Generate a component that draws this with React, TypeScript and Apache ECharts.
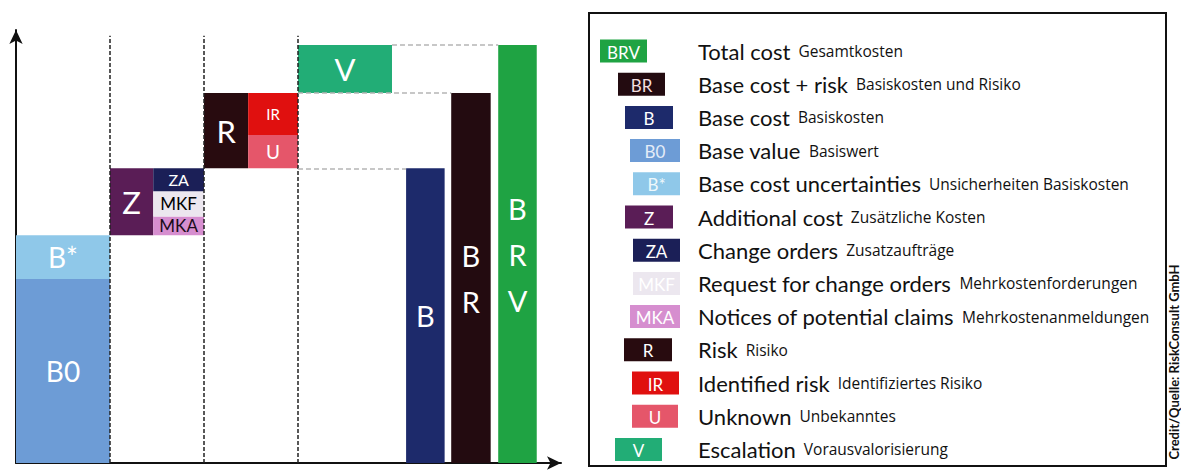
import React, { useEffect, useRef } from 'react';
import * as echarts from 'echarts';

// ---- data (arbitrary cost units) ----
const componentCodes = ['B0', 'B*', 'MKA', 'MKF', 'ZA', 'U', 'IR', 'V'];
const componentValues = [44, 10.5, 4.5, 6, 5.5, 8, 10, 11.5];
const stepCodes = ['B', 'Z', 'R', 'V'];
const totalCodes = ['B', 'BR', 'BRV'];

const legendCodes = ['BRV', 'BR', 'B', 'B0', 'B*', 'Z', 'ZA', 'MKF', 'MKA', 'R', 'IR', 'U', 'V'];
const legendMain = [
  'Total cost', 'Base cost + risk', 'Base cost', 'Base value', 'Base cost uncertainties',
  'Additional cost', 'Change orders', 'Request for change orders', 'Notices of potential claims',
  'Risk', 'Identified risk', 'Unknown', 'Escalation',
];
const legendSub = [
  'Gesamtkosten', 'Basiskosten und Risiko', 'Basiskosten', 'Basiswert', 'Unsicherheiten Basiskosten',
  'Zusätzliche Kosten', 'Zusatzaufträge', 'Mehrkostenforderungen', 'Mehrkostenanmeldungen',
  'Risiko', 'Identifiziertes Risiko', 'Unbekanntes', 'Vorausvalorisierung',
];
const creditText = 'Credit/Quelle: RiskConsult GmbH';

// ---- styles ----
const COLORS: Record<string, string> = {
  BRV: '#1fa343', BR: '#230b10', B: '#1d2a6b', B0: '#6d9cd6', 'B*': '#8fc8e9',
  Z: '#5a1d56', ZA: '#1b1f57', MKF: '#ece7ef', MKA: '#d68ecf', R: '#280b0f',
  IR: '#e0100f', U: '#e5566a', V: '#22ad76',
};
const LEGEND_TEXT: Record<string, string> = {
  BRV: '#ffffff', BR: '#f3dede', B: '#ffffff', B0: '#e4ecf8', 'B*': '#eef8fc', Z: '#ffffff',
  ZA: '#ffffff', MKF: '#ffffff', MKA: '#ffffff', R: '#ffffff', IR: '#ffffff', U: '#ffffff', V: '#ffffff',
};
// swatch x / width in the legend (layout only)
const SWATCH_X = [600, 618, 625, 630, 633, 625, 633, 633, 630, 624, 632, 632, 615];
const SWATCH_W = [47, 47, 48, 50, 47, 48, 47, 47, 50, 48, 47, 46, 47];

const FONT = 'Lato, "Noto Sans", sans-serif';

export default function App() {
  const ref = useRef<HTMLDivElement>(null);
  useEffect(() => {
    if (!ref.current) return;
    const chart = echarts.init(ref.current, undefined, { renderer: 'svg' });

    const v = (c: string) => componentValues[componentCodes.indexOf(c)];
    const baseB = v('B0') + v('B*');
    const topZ = baseB + v('MKA') + v('MKF') + v('ZA');
    const topR = topZ + v('U') + v('IR');
    const topV = topR + v('V');
    const totals = [topZ, topR, topV];

    // x layout: step slots are 1 unit wide
    const zSplit = 1.46;
    const rSplit = 2.47;
    const totalX = [[4.15, 4.56], [4.63, 5.05], [5.13, 5.54]];

    type Piece = { x0: number; x1: number; y0: number; y1: number; code: string; label: string; size: number; color: string };
    const pieces: Piece[] = [];
    pieces.push({ x0: 0, x1: 1, y0: 0, y1: v('B0'), code: 'B0', label: 'B0', size: 28, color: '#fff' });
    pieces.push({ x0: 0, x1: 1, y0: v('B0'), y1: baseB, code: 'B*', label: 'B*', size: 28, color: '#fff' });
    pieces.push({ x0: 1, x1: zSplit, y0: baseB, y1: topZ, code: 'Z', label: 'Z', size: 31, color: '#fff' });
    let acc = baseB;
    [['MKA', '#1a0c1a', 17], ['MKF', '#000', 17], ['ZA', '#fff', 16]].forEach(([c, col, s]) => {
      pieces.push({ x0: zSplit, x1: 2, y0: acc, y1: acc + v(c as string), code: c as string, label: c as string, size: s as number, color: col as string });
      acc += v(c as string);
    });
    pieces.push({ x0: 2, x1: rSplit, y0: topZ, y1: topR, code: 'R', label: 'R', size: 31, color: '#fff' });
    acc = topZ;
    [['U', '#fff', 19], ['IR', '#fff', 15]].forEach(([c, col, s]) => {
      pieces.push({ x0: rSplit, x1: 3, y0: acc, y1: acc + v(c as string), code: c as string, label: c as string, size: s as number, color: col as string });
      acc += v(c as string);
    });
    pieces.push({ x0: 3, x1: 4, y0: topR, y1: topV, code: 'V', label: 'V', size: 31, color: '#fff' });
    totalCodes.forEach((c, i) => {
      pieces.push({ x0: totalX[i][0], x1: totalX[i][1], y0: 0, y1: totals[i], code: c, label: c.split('').join('\n'), size: 29, color: '#fff' });
    });

    const dashedV = [1, 2, 3].map((x) => [{ coord: [x, 0] }, { coord: [x, 102.2] }]);
    const grayLines = [
      [{ coord: [4, topV] }, { coord: [totalX[2][0], topV] }],
      [{ coord: [3, topR] }, { coord: [totalX[1][0], topR] }],
      [{ coord: [3, topZ] }, { coord: [totalX[0][0], topZ] }],
    ];

    const rowY = (i: number) => 51 + i * 33.2;
    const graphics: any[] = [
      { type: 'rect', shape: { x: 589, y: 13, width: 577, height: 453 }, style: { fill: '#fff', stroke: '#111', lineWidth: 2 }, z: 0 },
    ];
    legendCodes.forEach((c, i) => {
      const cy = rowY(i);
      graphics.push({ type: 'rect', shape: { x: SWATCH_X[i], y: cy - 11.5, width: SWATCH_W[i], height: 23 }, style: { fill: COLORS[c] }, z: 1 });
      graphics.push({
        type: 'text', x: SWATCH_X[i] + SWATCH_W[i] / 2, y: cy + 1, z: 2,
        style: { text: c, fill: LEGEND_TEXT[c], font: `17px ${FONT}`, align: 'center', verticalAlign: 'middle', textAlign: 'center', textVerticalAlign: 'middle' },
      });
      graphics.push({
        type: 'text', x: 698, y: cy, z: 2,
        style: {
          text: `{m|${legendMain[i]}}{s|  ${legendSub[i]}}`,
          align: 'left', verticalAlign: 'middle', textAlign: 'left', textVerticalAlign: 'middle',
          rich: {
            m: { fontFamily: 'Lato', fontSize: 22, fill: '#111', color: '#111' },
            s: { fontFamily: '"Open Sans"', fontSize: 15.5, fill: '#111', color: '#111' },
          },
        },
      });
    });
    graphics.push({
      type: 'text', x: 1174, y: 362, rotation: Math.PI / 2, z: 2,
      style: { text: creditText, fill: '#111', font: `bold 13px ${FONT}`, align: 'center', verticalAlign: 'middle', textAlign: 'center', textVerticalAlign: 'middle' },
    });

    const axisLine = { show: true, symbol: ['none', 'arrow'], symbolSize: [10, 14], lineStyle: { color: '#111', width: 2 } };

    chart.setOption({
      animation: false,
      backgroundColor: '#fff',
      grid: { left: 16, right: 620, top: 30, bottom: 7 },
      xAxis: {
        type: 'value', min: 0, max: 5.798,
        axisLine, axisTick: { show: false }, axisLabel: { show: false }, splitLine: { show: false },
      },
      yAxis: {
        type: 'value', min: 0, max: 103.6,
        axisLine, axisTick: { show: false }, axisLabel: { show: false }, splitLine: { show: false },
      },
      graphic: graphics,
      series: [
        {
          type: 'custom',
          name: stepCodes.join(' / '),
          encode: { x: [0, 1], y: [2, 3] },
          data: pieces.map((p) => [p.x0, p.x1, p.y0, p.y1]),
          renderItem: (params: any, api: any) => {
            const p = pieces[params.dataIndex];
            const a = api.coord([api.value(0), api.value(3)]);
            const b = api.coord([api.value(1), api.value(2)]);
            return {
              type: 'group',
              children: [
                { type: 'rect', shape: { x: a[0], y: a[1], width: b[0] - a[0], height: b[1] - a[1] }, style: { fill: COLORS[p.code] } },
                {
                  type: 'text', x: (a[0] + b[0]) / 2, y: (a[1] + b[1]) / 2,
                  style: { text: p.label, fill: p.color, font: `${p.size}px ${FONT}`, lineHeight: 46, align: 'center', verticalAlign: 'middle', textAlign: 'center', textVerticalAlign: 'middle' },
                },
              ],
            };
          },
          markLine: {
            silent: true, symbol: ['none', 'none'], label: { show: false },
            data: [
              ...dashedV.map((d) => d.map((pt, k) => (k === 0 ? { ...pt, lineStyle: { color: '#222', width: 1.5, type: [4, 2] } } : pt))),
              ...grayLines.map((d) => d.map((pt, k) => (k === 0 ? { ...pt, lineStyle: { color: '#b5b5b5', width: 1.5, type: [5, 3] } } : pt))),
            ],
          },
          z: 2,
        },
      ],
    });
    return () => chart.dispose();
  }, []);
  return <div ref={ref} style={{ position: 'fixed', left: 0, top: 0, width: 1181, height: 470 }} />;
}
